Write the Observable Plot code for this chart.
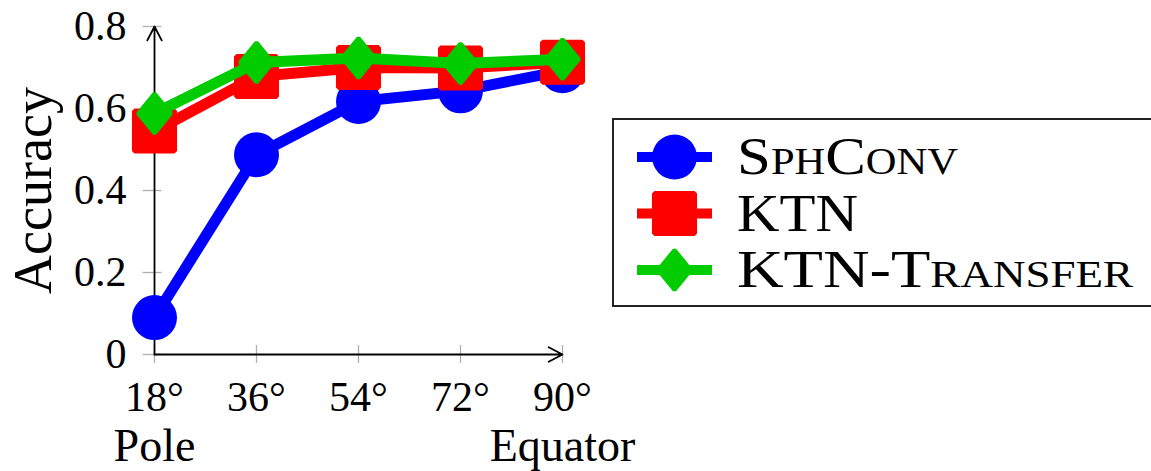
<!DOCTYPE html>
<html>
<head>
<meta charset="utf-8">
<script src="https://cdn.jsdelivr.net/npm/d3@7"></script>
<script src="https://cdn.jsdelivr.net/npm/@observablehq/plot@0.6"></script>
<style>
  html, body { margin: 0; padding: 0; background: #fff; }
  #wrap { position: relative; width: 1151px; height: 471px; overflow: hidden; }
  #legend { position: absolute; left: 0; top: 0; pointer-events: none; }
</style>
</head>
<body>
<div id="wrap"></div>
<script>
// ---- data ----
const categories = ["18°", "36°", "54°", "72°", "90°"];
const seriesNames = ["SphConv", "KTN", "KTN-Transfer"];
const sphConv     = [0.090, 0.487, 0.617, 0.643, 0.692];
const ktn         = [0.545, 0.678, 0.700, 0.699, 0.713];
const ktnTransfer = [0.588, 0.712, 0.723, 0.710, 0.720];
const yTicks = [0, 0.2, 0.4, 0.6, 0.8];
const yTickLabels = ["0", "0.2", "0.4", "0.6", "0.8"];
const xEndLabels = ["Pole", "Equator"];
const yTitle = "Accuracy";

const colors = ["#0000ff", "#ff0000", "#00cc00"];
const values = [sphConv, ktn, ktnTransfer];
const rows = values.map((vals, s) => categories.map((c, i) => ({series: seriesNames[s], x: c, y: vals[i]})));

// pgfplots-like diamond (aspect ~0.82)
const diamond = {
  draw(context, size) {
    const r = Math.sqrt(size / Math.PI);
    const h = r, w = r * 0.82;
    context.moveTo(0, -h); context.lineTo(w, 0); context.lineTo(0, h); context.lineTo(-w, 0); context.closePath();
  }
};

const markerOpts = [
  {symbol: "circle", r: 22.5, fill: colors[0], stroke: "none"},
  {symbol: "square", r: 22.6, fill: colors[1], stroke: colors[1], strokeWidth: 5, strokeLinejoin: "bevel"},
  {symbol: diamond, r: 20, fill: colors[2], stroke: colors[2], strokeWidth: 4, strokeLinejoin: "bevel"}
];

const seriesMarks = rows.flatMap((data, s) => [
  Plot.line(data, {x: "x", y: "y", stroke: colors[s], strokeWidth: 11, strokeLinejoin: "round"}),
  Plot.dot(data, {x: "x", y: "y", ...markerOpts[s]})
]);

const chart = Plot.plot({
  width: 600,
  height: 471,
  marginLeft: 152,
  marginRight: 37,
  marginTop: 26,
  marginBottom: 117,
  style: {fontFamily: "'Liberation Serif', serif", fontSize: "42px", background: "transparent", overflow: "visible", color: "#000"},
  x: {type: "point", domain: categories, padding: 0, label: null},
  y: {domain: [0, 0.8], label: null},
  marks: [
    // grey tick marks crossing the axes
    Plot.axisY({ticks: yTicks, tickSize: 19, dx: 9.5, tickFormat: () => "", stroke: "#b0b0b0", strokeWidth: 1.3, label: null}),
    Plot.axisX({tickSize: 18, dy: -9, tickFormat: () => "", stroke: "#b0b0b0", strokeWidth: 1.3, label: null}),
    // tick labels
    Plot.axisY({ticks: yTicks, tickSize: 0, tickPadding: 26, tickFormat: (d, i) => yTickLabels[i], fontSize: 42, label: null}),
    Plot.axisX({tickSize: 0, tickPadding: 27, fontSize: 42, label: null}),
    // axis lines with arrows
    Plot.arrow([{x1: categories[0], y1: 0, x2: categories[categories.length - 1], y2: 0}],
      {x1: "x1", y1: "y1", x2: "x2", y2: "y2", stroke: "#000", strokeWidth: 1.8, headLength: 13, headAngle: 55}),
    Plot.arrow([{x1: categories[0], y1: 0, x2: categories[0], y2: yTicks[yTicks.length - 1]}],
      {x1: "x1", y1: "y1", x2: "x2", y2: "y2", stroke: "#000", strokeWidth: 1.8, headLength: 13, headAngle: 55}),
    // Pole / Equator
    Plot.text([{x: categories[0], y: 0, t: xEndLabels[0]}, {x: categories[categories.length - 1], y: 0, t: xEndLabels[1]}],
      {x: "x", y: "y", text: "t", dy: 92, fontSize: 46, fill: "#000"}),
    // y title
    Plot.text([yTitle], {text: d => d, frameAnchor: "left", textAnchor: "middle", rotate: -90, dx: -119, fontSize: 54, fill: "#000"}),
    ...seriesMarks
  ]
});

const wrap = document.getElementById("wrap");
wrap.appendChild(chart);

// ---- legend ----
const lg = d3.create("svg").attr("id", "legend").attr("width", 1151).attr("height", 471);
lg.append("rect").attr("x", 613).attr("y", 119).attr("width", 560).attr("height", 187)
  .attr("fill", "#fff").attr("stroke", "#222").attr("stroke-width", 2);
const legendText = [221, 121, 396];
const legendSymbols = [
  d3.symbol(d3.symbolCircle, Math.PI * 22.5 * 22.5),
  d3.symbol(d3.symbolSquare, Math.PI * 22.6 * 22.6),
  d3.symbol(diamond, Math.PI * 20 * 20)
];
seriesNames.forEach((name, i) => {
  const cy = 157 + i * 56.5;
  const g = lg.append("g");
  g.append("line").attr("x1", 637).attr("x2", 712).attr("y1", cy).attr("y2", cy)
    .attr("stroke", colors[i]).attr("stroke-width", 10);
  const p = g.append("path").attr("d", legendSymbols[i]()).attr("transform", `translate(674.5,${cy})`)
    .attr("fill", colors[i]);
  if (i > 0) p.attr("stroke", colors[i]).attr("stroke-width", markerOpts[i].strokeWidth).attr("stroke-linejoin", "bevel");
  g.append("text").attr("x", 737).attr("y", cy + 17).text(name)
    .attr("font-family", "'Liberation Serif', serif").attr("font-size", 53)
    .style("font-variant", "small-caps")
    .attr("textLength", legendText[i]).attr("lengthAdjust", "spacingAndGlyphs")
    .attr("fill", "#000");
});
wrap.appendChild(lg.node());
</script>
</body>
</html>
